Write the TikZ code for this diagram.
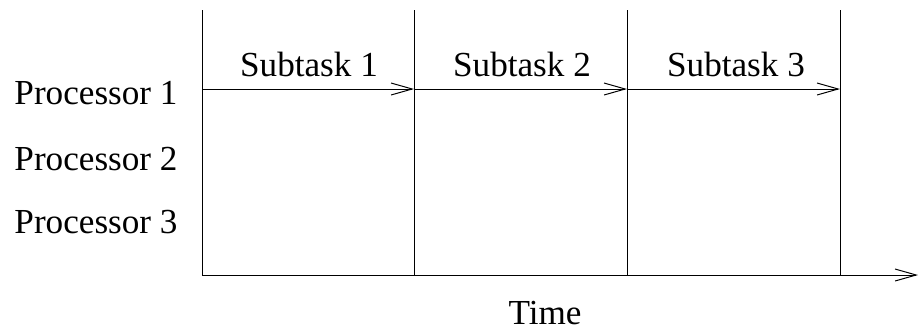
\documentclass[tikz,border=0pt]{standalone}
\usepackage{fontspec}
\setmainfont{Liberation Serif}
\usetikzlibrary{arrows.meta}

\begin{document}
\begin{tikzpicture}[x=0.025cm,y=-0.025cm,line width=0.7pt]
    \tikzstyle{lbl}=[font=\fontsize{25}{30}\selectfont,inner sep=0pt,anchor=base]
    \tikzstyle{tip}=[-{Straight Barb[length=15pt,width=8.5pt,line width=0.7pt]}]
    \useasboundingbox (0,0) rectangle (920,332);

    % Time slots
    \coordinate (t0) at (202,10);
    \coordinate (t1) at (414,10);
    \coordinate (t2) at (627,10);
    \coordinate (t3) at (840,10);
    \coordinate (b0) at (202,275);
    \coordinate (b1) at (414,275);
    \coordinate (b2) at (627,275);
    \coordinate (b3) at (840,275);
    \coordinate (end) at (918,275);

    \draw (t0) -- (b0);
    \draw (t1) -- (b1);
    \draw (t2) -- (b2);
    \draw (t3) -- (b3);

    % Draw time axis
    \draw [tip] (b0) -- (end);
    \node [lbl] (time) at (545,324) {Time};

    % Subtasks on processor 1
    \coordinate (s0) at (202,89);
    \coordinate (s1) at (414,89);
    \coordinate (s2) at (627,89);
    \coordinate (s3) at (840,89);

    \draw [tip] (s0) -- (s1);
    \draw [tip] (s1) -- (s2);
    \draw [tip] (s2) -- (s3);

    \node [lbl] (sub1) at (309,76) {Subtask 1};
    \node [lbl] (sub2) at (522,76) {Subtask 2};
    \node [lbl] (sub3) at (736,76) {Subtask 3};

    % Processors
    \node [lbl,anchor=base west] (proc1) at (14,104) {Processor 1};
    \node [lbl,anchor=base west] (proc2) at (14,170) {Processor 2};
    \node [lbl,anchor=base west] (proc3) at (14,233) {Processor 3};

\end{tikzpicture}
\end{document}
